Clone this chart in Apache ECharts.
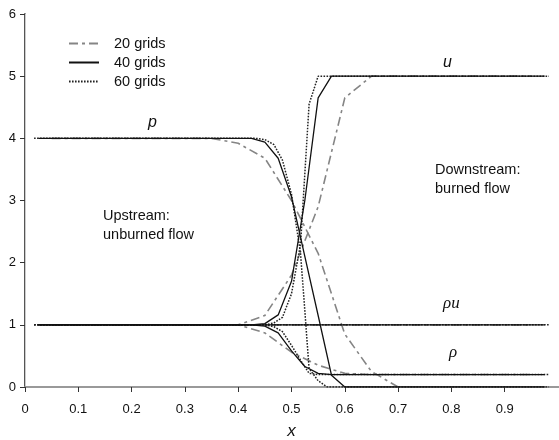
<!DOCTYPE html>
<html>
<head>
<meta charset="utf-8">
<script src="https://cdn.jsdelivr.net/npm/echarts@6/dist/echarts.min.js"></script>
<style>html,body{margin:0;padding:0;background:#fff}#c{width:559px;height:440px}</style>
</head>
<body>
<div id="c"></div>
<script>
// ---- data (x positions of grid nodes and values) ----
const legendNames = ['20 grids', '40 grids', '60 grids'];
const xTicks = [0, 0.1, 0.2, 0.3, 0.4, 0.5, 0.6, 0.7, 0.8, 0.9, 1];
const yTicks = [0, 1, 2, 3, 4, 5, 6];

// 20 grids
const x20   = [0.05, 0.35, 0.4, 0.45, 0.5, 0.55, 0.6, 0.65, 0.7, 0.95];
const p20   = [4.0, 4.0, 3.92, 3.68, 3.0, 2.15, 0.85, 0.25, 0.0, 0.0];
const u20   = [1.0, 1.0, 1.0, 1.15, 1.8, 2.9, 4.65, 5.0, 5.0, 5.0];
const rho20 = [1.0, 1.0, 1.0, 0.87, 0.56, 0.35, 0.22, 0.2, 0.2, 0.2];
const ru20  = [1.0, 1.0, 1.0, 1.0, 1.0, 1.0, 1.0, 1.0, 1.0, 1.0];

// 40 grids
const x40   = [0.025, 0.425, 0.45, 0.475, 0.5, 0.525, 0.55, 0.575, 0.6, 0.975];
const p40   = [4.0, 4.0, 3.94, 3.68, 3.06, 2.1, 1.15, 0.19, 0.0, 0.0];
const u40   = [1.0, 1.0, 1.02, 1.16, 1.7, 3.0, 4.65, 5.0, 5.0, 5.0];
const rho40 = [1.0, 1.0, 0.98, 0.87, 0.58, 0.33, 0.22, 0.2, 0.2, 0.2];
const ru40  = [1.0, 1.0, 1.0, 1.0, 1.0, 1.0, 1.0, 1.0, 1.0, 1.0];

// 60 grids
const x60   = [0.017, 0.433, 0.45, 0.467, 0.483, 0.5, 0.517, 0.533, 0.55, 0.567, 0.983];
const p60   = [4.0, 4.0, 3.98, 3.9, 3.65, 3.1, 2.15, 0.3, 0.1, 0.0, 0.0];
const u60   = [1.0, 1.0, 1.0, 1.03, 1.12, 1.5, 2.3, 4.55, 5.0, 5.0, 5.0];
const rho60 = [1.0, 1.0, 1.0, 0.97, 0.89, 0.67, 0.43, 0.22, 0.2, 0.2, 0.2];
const ru60  = [1.0, 1.0, 1.0, 1.0, 1.0, 1.0, 1.0, 1.0, 1.0, 1.0, 1.0];

// ---- chart ----
const styles = {
  '20 grids': { color: '#858585', width: 1.6, type: [9, 4, 3, 4] },
  '40 grids': { color: '#111111', width: 1.3, type: 'solid' },
  '60 grids': { color: '#222222', width: 1.5, type: [1.6, 1.4] }
};
function pairs(xs, ys) { return xs.map((x, i) => [x, ys[i]]); }
function mk(name, xs, ys) {
  const s = styles[name];
  return {
    name: name, type: 'line', data: pairs(xs, ys), showSymbol: false, symbol: 'none',
    animation: false, silent: true,
    lineStyle: { color: s.color, width: s.width, type: s.type },
    itemStyle: { color: s.color }
  };
}
const series = [
  mk('20 grids', x20, p20), mk('20 grids', x20, u20), mk('20 grids', x20, rho20), mk('20 grids', x20, ru20),
  mk('60 grids', x60, p60), mk('60 grids', x60, u60), mk('60 grids', x60, rho60), mk('60 grids', x60, ru60),
  mk('40 grids', x40, p40), mk('40 grids', x40, u40), mk('40 grids', x40, rho40), mk('40 grids', x40, ru40)
];

const FONT = 'Liberation Sans';
const chart = echarts.init(document.getElementById('c'), null, { renderer: 'canvas' });
chart.setOption({
  animation: false,
  backgroundColor: '#ffffff',
  grid: { left: 25, right: 1, top: 14, bottom: 53, containLabel: false, outerBoundsMode: 'none' },
  legend: {
    data: legendNames, orient: 'vertical', left: 63, top: 31,
    itemWidth: 30, itemHeight: 14, itemGap: 4,
    itemStyle: { opacity: 0 },
    textStyle: { fontFamily: FONT, fontSize: 14.5, color: '#111', padding: [0, 0, 0, 10] },
    selectedMode: false
  },
  xAxis: [{
    type: 'value', min: xTicks[0], max: xTicks[xTicks.length - 1], interval: 0.1,
    name: 'x', nameLocation: 'middle', nameGap: 36,
    nameTextStyle: { fontFamily: FONT, fontStyle: 'italic', fontSize: 17, color: '#111' },
    axisLine: { show: true, lineStyle: { color: '#111', width: 1.5 } },
    axisTick: { show: true, inside: false, length: 5, lineStyle: { color: '#333', width: 1 } },
    axisLabel: { fontFamily: FONT, fontSize: 13, color: '#111', margin: 16, showMaxLabel: false },
    splitLine: { show: false }
  }, {
    type: 'value', position: 'top', min: 0, max: 1,
    axisLine: { show: true, lineStyle: { color: '#999', width: 2 } },
    axisTick: { show: false }, axisLabel: { show: false }, splitLine: { show: false }
  }],
  yAxis: [{
    type: 'value', min: yTicks[0], max: yTicks[yTicks.length - 1], interval: 1,
    axisLine: { show: true, lineStyle: { color: '#555', width: 2 } },
    axisTick: { show: true, inside: false, length: 5, lineStyle: { color: '#333', width: 1 } },
    axisLabel: { fontFamily: FONT, fontSize: 13, color: '#111', margin: 9 },
    splitLine: { show: false }
  }, {
    type: 'value', position: 'right', min: 0, max: 6,
    axisLine: { show: true, lineStyle: { color: '#ccc', width: 1 } },
    axisTick: { show: false }, axisLabel: { show: false }, splitLine: { show: false }
  }],
  series: series,
  graphic: [
    { type: 'text', left: 148, top: 115, style: { text: 'p', font: 'italic 16px "Liberation Sans"', fill: '#111' } },
    { type: 'text', left: 443, top: 55, style: { text: 'u', font: 'italic 16px "Liberation Sans"', fill: '#111' } },
    { type: 'text', left: 443, top: 295, style: { text: 'ρu', font: 'italic 17px "Liberation Serif"', fill: '#111' } },
    { type: 'text', left: 449, top: 344, style: { text: 'ρ', font: 'italic 17px "Liberation Serif"', fill: '#111' } },
    { type: 'text', left: 103, top: 207, style: { text: 'Upstream:\nunburned flow', font: '14.5px "Liberation Sans"', lineHeight: 18.5, fill: '#111' } },
    { type: 'text', left: 435, top: 161, style: { text: 'Downstream:\nburned flow', font: '14.5px "Liberation Sans"', lineHeight: 18.5, fill: '#111' } }
  ]
});
</script>
</body>
</html>
